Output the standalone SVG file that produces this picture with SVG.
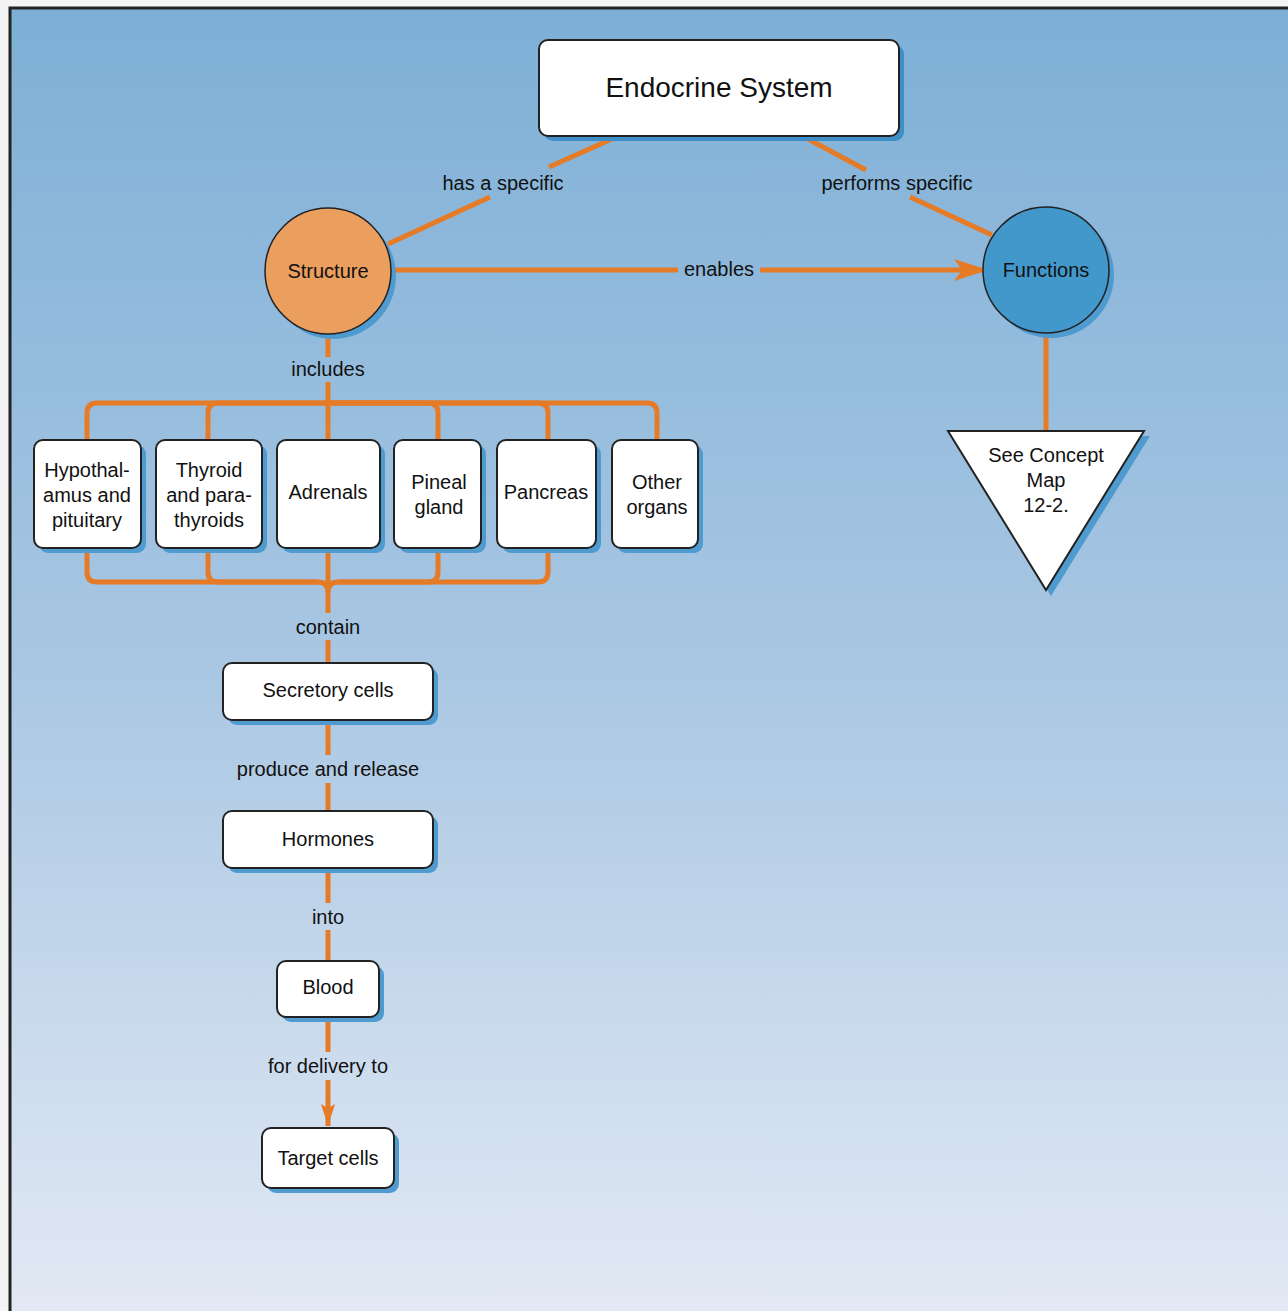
<svg xmlns="http://www.w3.org/2000/svg" width="1288" height="1311" viewBox="0 0 1288 1311">
<defs>
<linearGradient id="bg" x1="0" y1="0" x2="0" y2="1">
<stop offset="0" stop-color="#7dafd6"/>
<stop offset="0.5" stop-color="#a9c7e3"/>
<stop offset="1" stop-color="#e4eaf5"/>
</linearGradient>
<marker id="arrowL" viewBox="0 0 34 22" refX="34" refY="11" markerWidth="34" markerHeight="22" markerUnits="userSpaceOnUse" orient="auto">
<path d="M0,0 L34,11 L0,22 L8,11 Z" fill="#e57b26"/>
</marker>
<marker id="arrowS" viewBox="0 0 22 14" refX="22" refY="7" markerWidth="22" markerHeight="14" markerUnits="userSpaceOnUse" orient="auto">
<path d="M0,0 L22,7 L0,14 L4,7 Z" fill="#e57b26"/>
</marker>
</defs>
<style>
.box{fill:#fff;stroke:#222;stroke-width:2}
.shadow{fill:#4f9bd0}
.conn{fill:none;stroke:#e57b26;stroke-width:5}
text{font-family:"Liberation Sans",Arial,sans-serif;font-size:20px;fill:#111;text-anchor:middle}
.title{font-size:28px}
</style>
<rect x="0" y="0" width="1288" height="1311" fill="#f4f4f4"/>
<rect x="10" y="8" width="1290" height="1320" fill="url(#bg)" stroke="#232323" stroke-width="3"/>

<g id="connectors">
<path class="conn" d="M614,138 L549,167"/>
<path class="conn" d="M490,197 L388,244"/>
<text x="503" y="190">has a specific</text>
<path class="conn" d="M806,138 L866,170"/>
<path class="conn" d="M910,197 L992,235"/>
<text x="897" y="190">performs specific</text>
<path class="conn" d="M395,270 H678"/>
<path class="conn" d="M760,270 H988" marker-end="url(#arrowL)"/>
<text x="719" y="276">enables</text>
<path class="conn" d="M328,336 V357"/>
<path class="conn" d="M328,382 V440"/>
<text x="328" y="376">includes</text>
<path class="conn" d="M328,403 H97 Q87,403 87,413 V440"/>
<path class="conn" d="M328,403 H218 Q208,403 208,413 V440"/>
<path class="conn" d="M328,403 H428 Q438,403 438,413 V440"/>
<path class="conn" d="M328,403 H538 Q548,403 548,413 V440"/>
<path class="conn" d="M328,403 H647 Q657,403 657,413 V440"/>
<path class="conn" d="M87,548 V572 Q87,582 97,582 H318 Q328,582 328,592"/>
<path class="conn" d="M208,548 V572 Q208,582 218,582 H318"/>
<path class="conn" d="M438,548 V572 Q438,582 428,582 H338 Q328,582 328,592"/>
<path class="conn" d="M548,548 V572 Q548,582 538,582 H338"/>
<path class="conn" d="M328,548 V613"/>
<path class="conn" d="M328,640 V663"/>
<text x="328" y="634">contain</text>
<path class="conn" d="M328,720 V755"/>
<path class="conn" d="M328,783 V811"/>
<text x="328" y="776">produce and release</text>
<path class="conn" d="M328,868 V903"/>
<path class="conn" d="M328,930 V961"/>
<text x="328" y="924">into</text>
<path class="conn" d="M328,1017 V1052"/>
<path class="conn" d="M328,1080 V1126" marker-end="url(#arrowS)"/>
<text x="328" y="1073">for delivery to</text>
<path class="conn" d="M1046,334 V431"/>
</g>

<g id="endocrine-system">
<rect x="544" y="45" width="360" height="96" rx="9" fill="#3e8fc8"/>
<rect class="box" x="539" y="40" width="360" height="96" rx="9" stroke-width="2.5"/>
<text class="title" x="719" y="97">Endocrine System</text>
</g>

<g id="structure">
<circle class="shadow" cx="333" cy="276" r="63"/>
<circle cx="328" cy="271" r="63" fill="#eb9f5f" stroke="#222" stroke-width="1.5"/>
<text x="328" y="278">Structure</text>
</g>

<g id="functions">
<circle class="shadow" cx="1051" cy="275" r="63"/>
<circle cx="1046" cy="270" r="63" fill="#4398cb" stroke="#222" stroke-width="1.5"/>
<text x="1046" y="277">Functions</text>
</g>

<g id="see-concept-map">
<polygon class="shadow" points="953,436 1150,436 1051,596"/>
<polygon class="box" points="948,431 1144,431 1046,590" stroke-width="1.5"/>
<text x="1046" y="462">See Concept</text>
<text x="1046" y="487">Map</text>
<text x="1046" y="512">12-2.</text>
</g>

<g id="hypothalamus">
<rect class="shadow" x="39" y="445" width="107" height="108" rx="9"/>
<rect class="box" x="34" y="440" width="107" height="108" rx="9"/>
<text x="87" y="477">Hypothal-</text>
<text x="87" y="502">amus and</text>
<text x="87" y="527">pituitary</text>
</g>

<g id="thyroid">
<rect class="shadow" x="161" y="445" width="106" height="108" rx="9"/>
<rect class="box" x="156" y="440" width="106" height="108" rx="9"/>
<text x="209" y="477">Thyroid</text>
<text x="209" y="502">and para-</text>
<text x="209" y="527">thyroids</text>
</g>

<g id="adrenals">
<rect class="shadow" x="282" y="445" width="103" height="108" rx="9"/>
<rect class="box" x="277" y="440" width="103" height="108" rx="9"/>
<text x="328" y="499">Adrenals</text>
</g>

<g id="pineal">
<rect class="shadow" x="399" y="445" width="87" height="108" rx="9"/>
<rect class="box" x="394" y="440" width="87" height="108" rx="9"/>
<text x="439" y="489">Pineal</text>
<text x="439" y="514">gland</text>
</g>

<g id="pancreas">
<rect class="shadow" x="502" y="445" width="99" height="108" rx="9"/>
<rect class="box" x="497" y="440" width="99" height="108" rx="9"/>
<text x="546" y="499">Pancreas</text>
</g>

<g id="other-organs">
<rect class="shadow" x="617" y="445" width="86" height="108" rx="9"/>
<rect class="box" x="612" y="440" width="86" height="108" rx="9"/>
<text x="657" y="489">Other</text>
<text x="657" y="514">organs</text>
</g>

<g id="secretory-cells">
<rect class="shadow" x="228" y="668" width="210" height="57" rx="9"/>
<rect class="box" x="223" y="663" width="210" height="57" rx="9"/>
<text x="328" y="697">Secretory cells</text>
</g>

<g id="hormones">
<rect class="shadow" x="228" y="816" width="210" height="57" rx="9"/>
<rect class="box" x="223" y="811" width="210" height="57" rx="9"/>
<text x="328" y="846">Hormones</text>
</g>

<g id="blood">
<rect class="shadow" x="282" y="966" width="102" height="56" rx="9"/>
<rect class="box" x="277" y="961" width="102" height="56" rx="9"/>
<text x="328" y="994">Blood</text>
</g>

<g id="target-cells">
<rect class="shadow" x="267" y="1133" width="132" height="60" rx="9"/>
<rect class="box" x="262" y="1128" width="132" height="60" rx="9"/>
<text x="328" y="1165">Target cells</text>
</g>
</svg>
